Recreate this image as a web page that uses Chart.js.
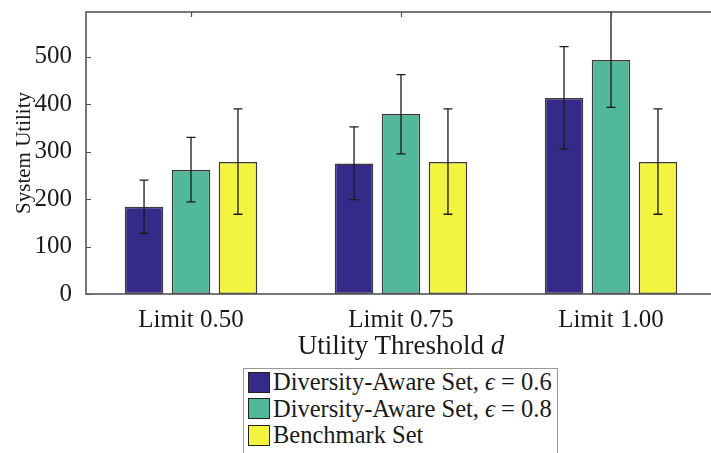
<!DOCTYPE html>
<html lang="en">
<head>
    <meta charset="UTF-8">
    <title>System Utility</title>
    <script src="https://cdn.jsdelivr.net/npm/chart.js"></script>
    <style>
        body { margin: 0; width: 711px; height: 453px; overflow: hidden; background: #fff; font-family: "Liberation Serif", serif; color: #1a1a1a; position: relative; }
        #wrap { position: absolute; left: 0; top: 0; width: 720px; height: 330px; }
        #xtitle { position: absolute; left: 0; width: 800px; text-align: center; top: 329px; font-size: 27px; line-height: 32px; }
        #legend { position: absolute; left: 243px; top: 368px; width: 313px; height: 95px; border: 1px solid #999; }
        .row { display: flex; align-items: center; height: 26.5px; font-size: 24.5px; white-space: nowrap; }
        .sw { width: 20px; height: 19px; border: 1.5px solid #222; margin: 0 3px 0 4px; flex: none; }
    </style>
</head>
<body>
    <div id="wrap"><canvas id="chart"></canvas></div>
    <div id="xtitle">Utility Threshold <i>d</i></div>
    <div id="legend"></div>

    <script>
        const categories = ["Limit 0.50", "Limit 0.75", "Limit 1.00"];

        const div06 = [184, 275, 413];
        const div06Lo = [128, 199, 305];
        const div06Hi = [240, 352, 521];

        const div08 = [261, 379, 493];
        const div08Lo = [194, 295, 393];
        const div08Hi = [330, 462, 600];

        const bench = [278, 278, 278];
        const benchLo = [168, 168, 168];
        const benchHi = [390, 390, 390];

        const yTicks = [0, 100, 200, 300, 400, 500];

        const FONT = "Liberation Serif";

        // error bars + matlab style box and inward ticks
        const matlabBox = {
            id: "matlabBox",
            afterDatasetsDraw(chart) {
                const ctx = chart.ctx;
                const area = chart.chartArea;
                const x = chart.scales.x, y = chart.scales.y;

                ctx.save();
                ctx.beginPath();
                ctx.rect(area.left, area.top - 1, area.right - area.left, area.bottom - area.top + 2);
                ctx.clip();
                chart.data.datasets.forEach((ds, i) => {
                    const meta = chart.getDatasetMeta(i);
                    meta.data.forEach((bar, j) => {
                        const top = y.getPixelForValue(ds.errHi[j]);
                        const bot = y.getPixelForValue(ds.errLo[j]);
                        ctx.strokeStyle = "#1a1a1a";
                        ctx.lineWidth = 1.3;
                        ctx.beginPath();
                        ctx.moveTo(bar.x, top);
                        ctx.lineTo(bar.x, bot);
                        ctx.moveTo(bar.x - 4.5, top);
                        ctx.lineTo(bar.x + 4.5, top);
                        ctx.moveTo(bar.x - 4.5, bot);
                        ctx.lineTo(bar.x + 4.5, bot);
                        ctx.stroke();
                    });
                });
                ctx.restore();

                ctx.save();
                ctx.strokeStyle = "#555";
                ctx.lineWidth = 1.2;
                ctx.beginPath();
                yTicks.forEach(v => {
                    const py = Math.round(y.getPixelForValue(v)) + 0.5;
                    ctx.moveTo(area.left, py);
                    ctx.lineTo(area.left + 5, py);
                    ctx.moveTo(area.right, py);
                    ctx.lineTo(area.right - 5, py);
                });
                categories.forEach((c, i) => {
                    const px = Math.round(x.getPixelForValue(i)) + 0.5;
                    ctx.moveTo(px, area.top);
                    ctx.lineTo(px, area.top + 5);
                });
                ctx.stroke();
                ctx.lineWidth = 1.6;
                ctx.strokeRect(area.left, area.top, area.right - area.left, area.bottom - area.top);
                ctx.restore();
            }
        };

        const chart = new Chart(document.getElementById("chart"), {
            type: "bar",
            data: {
                labels: categories,
                datasets: [
                    { label: "Diversity-Aware Set, ϵ = 0.6", data: div06, errLo: div06Lo, errHi: div06Hi, backgroundColor: "#352a87" },
                    { label: "Diversity-Aware Set, ϵ = 0.8", data: div08, errLo: div08Lo, errHi: div08Hi, backgroundColor: "#52b89a" },
                    { label: "Benchmark Set", data: bench, errLo: benchLo, errHi: benchHi, backgroundColor: "#f2f43f" }
                ].map(d => Object.assign(d, {
                    borderColor: "#3a3a3a",
                    borderWidth: 1.5,
                    borderSkipped: false,
                    categoryPercentage: 0.671,
                    barPercentage: 0.82
                }))
            },
            options: {
                responsive: true,
                maintainAspectRatio: false,
                animation: false,
                layout: { padding: { top: 12, right: 4, left: 12, bottom: 0 } },
                plugins: { legend: { display: false }, tooltip: { enabled: false } },
                scales: {
                    x: {
                        grid: { display: false },
                        border: { display: false },
                        ticks: { color: "#1a1a1a", font: { family: FONT, size: 25 }, padding: 3 },
                        afterFit(s) { s.height = 36; s.paddingLeft = 0; s.paddingRight = 0; }
                    },
                    y: {
                        min: 0,
                        max: 594,
                        afterBuildTicks(s) { s.ticks = yTicks.map(v => ({ value: v })); },
                        grid: { display: false },
                        border: { display: false },
                        ticks: { color: "#1a1a1a", font: { family: FONT, size: 25 }, padding: 6 },
                        title: { display: true, text: "System Utility", color: "#1a1a1a", font: { family: FONT, size: 21 }, padding: 0 },
                        afterFit(s) { s.width = 74; s.paddingTop = 0; s.paddingBottom = 0; }
                    }
                }
            },
            plugins: [matlabBox]
        });

        // html legend built from the chart datasets
        const legend = document.getElementById("legend");
        chart.data.datasets.forEach(ds => {
            const row = document.createElement("div");
            row.className = "row";
            const text = ds.label.replace("ϵ", "<i>ϵ</i>");
            row.innerHTML = `<span class="sw" style="background:${ds.backgroundColor}"></span><span>${text}</span>`;
            legend.appendChild(row);
        });

        // center the x title under the plot
        const a = chart.chartArea;
        const xt = document.getElementById("xtitle");
        xt.style.left = ((a.left + a.right) / 2 - 400) + "px";
    </script>
</body>
</html>
